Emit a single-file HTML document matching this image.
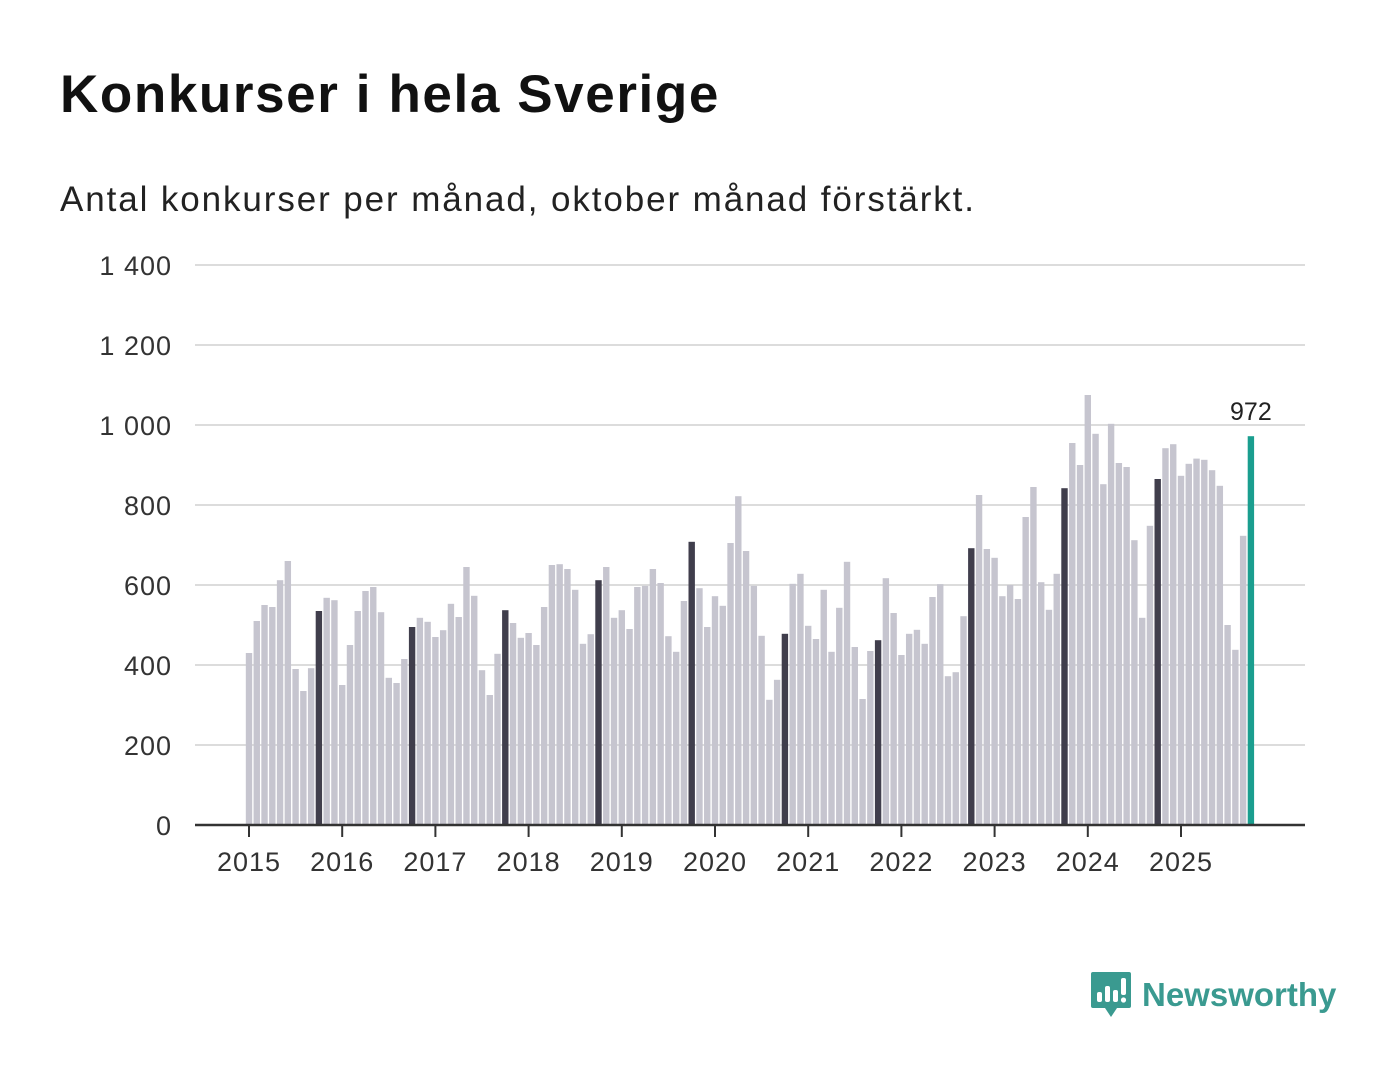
<!DOCTYPE html>
<html><head><meta charset="utf-8">
<style>
body{margin:0;background:#fff;font-family:"Liberation Sans",sans-serif;}
#wrap{position:relative;width:1400px;height:1080px;overflow:hidden;}
h1{position:absolute;left:60px;top:64px;margin:0;font-size:53px;font-weight:bold;color:#111;letter-spacing:1.6px;}
.sub{position:absolute;left:60px;top:180px;font-size:35px;color:#222;letter-spacing:1.9px;}
.logo{position:absolute;left:1090px;top:970px;display:flex;align-items:center;}
.logo span{font-size:33px;font-weight:bold;color:#3a9a90;margin-left:10px;}
</style></head><body>
<div id="wrap">
<h1>Konkurser i hela Sverige</h1>
<div class="sub">Antal konkurser per månad, oktober månad förstärkt.</div>
<svg id="chart" width="1400" height="1080" style="position:absolute;left:0;top:0"></svg>
<div class="logo">
<svg width="42" height="50" viewBox="0 0 42 50"><path d="M3 2h36a2 2 0 0 1 2 2v32a2 2 0 0 1-2 2H27l-6 9-6-9H3a2 2 0 0 1-2-2V4a2 2 0 0 1 2-2z" fill="#3a9a90"/><rect x="7" y="22" width="5" height="10" rx="2" fill="#fff"/><rect x="15" y="16" width="5" height="16" rx="2" fill="#fff"/><rect x="23" y="20" width="5" height="12" rx="2" fill="#fff"/><rect x="31" y="8" width="5" height="17" rx="2" fill="#fff"/><circle cx="33.5" cy="30" r="2.6" fill="#fff"/></svg>
<span>Newsworthy</span>
</div>
</div>
<script>
const years=["2015","2016","2017","2018","2019","2020","2021","2022","2023","2024","2025"];
const values=[
430,510,550,545,612,660,390,335,392,535,568,562,
350,450,535,585,595,532,368,355,415,495,518,508,
470,487,553,520,645,573,387,325,428,537,505,468,
480,450,545,650,652,640,588,453,477,612,645,518,
537,490,595,598,640,605,472,433,560,708,592,495,
572,548,705,822,685,598,473,313,363,478,603,628,
498,465,588,433,543,658,445,315,435,462,617,530,
425,478,488,453,570,602,372,382,522,692,825,690,
668,572,600,565,770,845,607,538,628,842,955,900,
1075,978,852,1003,905,895,712,518,748,865,942,952,
873,903,916,913,887,848,500,438,723,972];
const yTicks=[0,200,400,600,800,1000,1200,1400];
const yTickLabels=["0","200","400","600","800","1 000","1 200","1 400"];
const highlightLabel="972";

const svg=document.getElementById('chart');
const NS='http://www.w3.org/2000/svg';
const y=v=>825-v*0.4;
const x=i=>249+i*(93.2/12);
function mk(t,a){const e=document.createElementNS(NS,t);for(const k in a)e.setAttribute(k,a[k]);svg.appendChild(e);return e;}
yTicks.forEach((t,i)=>{
  if(t>0){const g=mk('line',{x1:195,x2:1305,y1:y(t),y2:y(t),stroke:'#dcdcdc','stroke-width':2});
  
  }
  const l=mk('text',{x:172,y:y(t)+10,'text-anchor':'end','font-size':27,'letter-spacing':1,fill:'#333','font-family':'Liberation Sans, sans-serif'});
  l.textContent=yTickLabels[i];
  
  
});
values.forEach((v,i)=>{
  const last=i===values.length-1;
  const oct=i%12===9;
  const r=mk('rect',{x:x(i)-3.2,y:y(v),width:6.4,height:v*0.4,fill:last?'#1a9e8f':(oct?'#403e4c':'#c6c5cf')});
  
  
  if(last){const t=mk('text',{x:x(i),y:y(v)-16,'text-anchor':'middle','font-size':25,fill:'#222','font-family':'Liberation Sans, sans-serif'});
  t.textContent=highlightLabel;
  
  }
});
const ax=mk('line',{x1:195,x2:1305,y1:825,y2:825,stroke:'#333','stroke-width':2.5});


years.forEach((yr,k)=>{
  const xx=x(k*12);
  const tk=mk('line',{x1:xx,x2:xx,y1:825,y2:837,stroke:'#333','stroke-width':2});
  
  
  const t=mk('text',{x:xx,y:871,'text-anchor':'middle','font-size':27,'letter-spacing':1,fill:'#333','font-family':'Liberation Sans, sans-serif'});
  t.textContent=yr;
  
  
});
</script>
</body></html>
